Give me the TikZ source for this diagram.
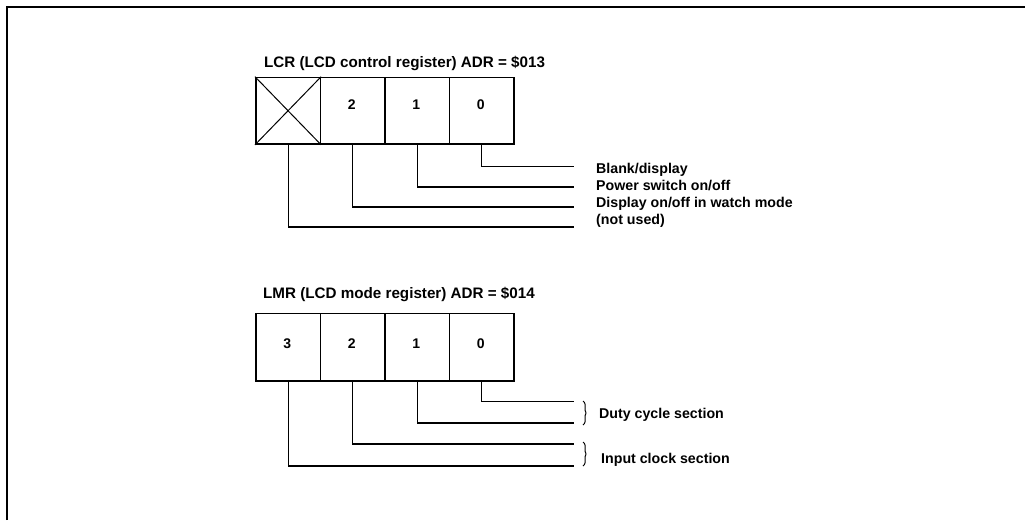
\documentclass[tikz,border=0pt]{standalone}
\usepackage{fontspec}
\setmainfont{Liberation Sans}
\begin{document}
\begin{tikzpicture}[x=1pt,y=-1pt,
  reg/.style={draw,line width=1.6pt,minimum width=64.5pt,minimum height=66.5pt,inner sep=0pt,anchor=north west},
  bitnum/.style={font=\fontsize{14}{16}\selectfont\bfseries,anchor=base,inner sep=0pt},
  lbl/.style={font=\fontsize{14.2}{16}\selectfont\bfseries,anchor=base west,inner sep=0pt},
  ttl/.style={font=\fontsize{15.2}{17}\selectfont\bfseries,anchor=base west,inner sep=0pt},
  conn/.style={line width=1.1pt},
  frameline/.style={line width=2pt},
  bracel/.style={line width=1pt,rounded corners=1pt}]
\useasboundingbox (0,0) rectangle (1025,520);
\draw[frameline] (6.5,520) -- (6.5,6.5) -- (1025,6.5);

% ---------- LCR ----------
\node[ttl] (t1) at (264,67) {LCR (LCD control register) ADR = \$013};
\node[reg] (a3) at (255,76.7) {};
\node[reg] (a2) at (319.5,76.7) {};
\node[reg] (a1) at (384,76.7) {};
\node[reg] (a0) at (448.5,76.7) {};
\draw[line width=1pt] (a3.north west) -- (a3.south east) (a3.south west) -- (a3.north east);
\node[bitnum] (na2) at (351.75,109.3) {2};
\node[bitnum] (na1) at (416.25,109.3) {1};
\node[bitnum] (na0) at (480.75,109.3) {0};

\coordinate (ea0) at (574,166.5);
\coordinate (ea1) at (574,187);
\coordinate (ea2) at (574,207);
\coordinate (ea3) at (574,227);
\draw[conn] (a0.south) |- (ea0);
\draw[conn] (a1.south) |- (ea1);
\draw[conn] (a2.south) |- (ea2);
\draw[conn] (a3.south) |- (ea3);

\node[lbl] (la0) at (596,173.5) {Blank/display};
\node[lbl] (la1) at (596,190.5) {Power switch on/off};
\node[lbl] (la2) at (596,207.5) {Display on/off in watch mode};
\node[lbl] (la3) at (596,224) {(not used)};

% ---------- LMR ----------
\node[ttl] (t2) at (263,298.3) {LMR (LCD mode register) ADR = \$014};
\node[reg,minimum height=67.5pt] (b3) at (255,312.5) {};
\node[reg,minimum height=67.5pt] (b2) at (319.5,312.5) {};
\node[reg,minimum height=67.5pt] (b1) at (384,312.5) {};
\node[reg,minimum height=67.5pt] (b0) at (448.5,312.5) {};
\node[bitnum] (nb3) at (287.25,348.3) {3};
\node[bitnum] (nb2) at (351.75,348.3) {2};
\node[bitnum] (nb1) at (416.25,348.3) {1};
\node[bitnum] (nb0) at (480.75,348.3) {0};

\coordinate (eb0) at (574,401.5);
\coordinate (eb1) at (574,423);
\coordinate (eb2) at (574,444);
\coordinate (eb3) at (574,466);
\draw[conn] (b0.south) |- (eb0);
\draw[conn] (b1.south) |- (eb1);
\draw[conn] (b2.south) |- (eb2);
\draw[conn] (b3.south) |- (eb3);

\draw[bracel] (583,401) -- (585,403) -- (585,411) -- (586.5,413) -- (585,415) -- (585,423) -- (583,425);
\draw[bracel] (583,442) -- (585,444) -- (585,452) -- (586.5,454) -- (585,456) -- (585,464) -- (583,466);

\node[lbl] (lb0) at (599,418) {Duty cycle section};
\node[lbl] (lb1) at (601,463) {Input clock section};
\end{tikzpicture}
\end{document}
